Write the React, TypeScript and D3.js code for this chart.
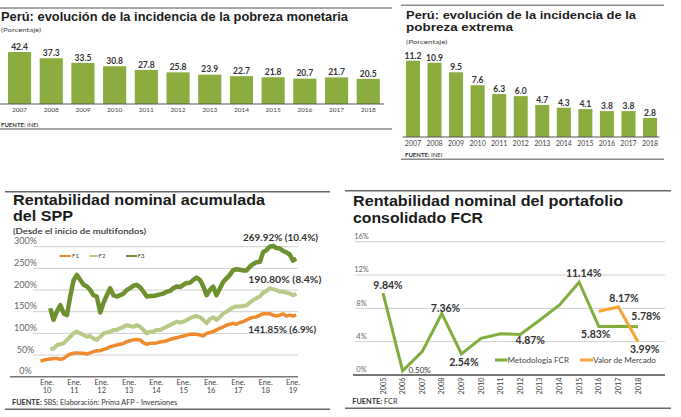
import React, { useEffect } from "react";
import * as d3 from "d3";

// ---------- DATA ----------
const years = ["2007", "2008", "2009", "2010", "2011", "2012", "2013", "2014", "2015", "2016", "2017", "2018"];
const pobrezaMonetaria = [42.4, 37.3, 33.5, 30.8, 27.8, 25.8, 23.9, 22.7, 21.8, 20.7, 21.7, 20.5];
const pobrezaExtrema = [11.2, 10.9, 9.5, 7.6, 6.3, 6.0, 4.7, 4.3, 4.1, 3.8, 3.8, 2.8];

const sppDates = [
  2009.76, 2009.88, 2010.0, 2010.12, 2010.24, 2010.36, 2010.49, 2010.61, 2010.73, 2010.85, 2010.97,
  2011.09, 2011.22, 2011.34, 2011.46, 2011.58, 2011.7, 2011.82, 2011.95,
  2012.07, 2012.19, 2012.31, 2012.43, 2012.55, 2012.68, 2012.8, 2012.92,
  2013.04, 2013.16, 2013.28, 2013.41, 2013.53, 2013.65, 2013.77, 2013.89,
  2014.01, 2014.14, 2014.26, 2014.38, 2014.5, 2014.62, 2014.74, 2014.87, 2014.99,
  2015.11, 2015.23, 2015.35, 2015.47, 2015.6, 2015.72, 2015.84, 2015.96,
  2016.08, 2016.2, 2016.33, 2016.45, 2016.57, 2016.69, 2016.81, 2016.93,
  2017.06, 2017.18, 2017.3, 2017.42, 2017.54, 2017.66, 2017.79, 2017.91,
  2018.03, 2018.15, 2018.27, 2018.39, 2018.52, 2018.64, 2018.76, 2018.88,
  2019.0, 2019.12,
];
const sppF1 = [
  36, 38, 40, 41, 42, 42, 40, 42, 48, 52, 54,
  55, 54, 54, 52, 55, 58, 60, 60,
  63, 65, 69, 71, 73, 75, 77, 81,
  83, 85, 86, 85, 78, 75, 77, 77,
  78, 80, 81, 83, 86, 88, 90, 92, 94,
  96, 98, 98, 98, 96, 94, 100, 102,
  104, 108, 112, 115, 119, 121, 123, 121,
  125, 127, 131, 135, 137, 138, 142, 146,
  145, 146, 142, 140, 142, 145, 140, 142,
  140, 142,
];
const sppF2 = [
  null, null, null, 63, 65, 73, 75, 77, 85, 92, 100,
  104, 100, 96, 92, 94, 88, 85, 92,
  100, 102, 104, 108, 108, 112, 115, 119,
  117, 115, 119, 115, 108, 100, 104, 104,
  108, 108, 112, 115, 119, 123, 127, 125, 127,
  131, 135, 138, 140, 137, 131, 123, 133,
  137, 131, 138, 146, 150, 155, 160, 162,
  162, 163, 165, 171, 177, 181, 185, 194,
  198, 204, 202, 200, 196, 196, 194, 192,
  188, 191,
];
const sppF3 = [
  null, null, null, 158, 131, 150, 165, 146, 142, 185, 222,
  235, 223, 212, 208, 200, 188, 185, 148,
  171, 188, 204, 188, 185, 188, 192, 200,
  204, 210, 212, 206, 196, 185, 186, 186,
  188, 190, 192, 196, 198, 204, 208, 207, 212,
  216, 217, 223, 229, 223, 208, 188, 200,
  208, 188, 204, 219, 227, 235, 246, 248,
  247, 245, 245, 254, 260, 264, 265, 288,
  292, 300, 302, 297, 296, 290, 287, 282,
  268, 272,
];
const sppYTicks = [0, 50, 100, 150, 200, 250, 300];
const sppXTicks = [2010, 2011, 2012, 2013, 2014, 2015, 2016, 2017, 2018, 2019];
const sppXLabels = ["10", "11", "12", "13", "14", "15", "16", "17", "18", "19"];

const fcrYears = ["2005", "2006", "2007", "2008", "2009", "2010", "2011", "2012", "2013", "2014", "2015", "2016", "2017", "2018"];
const fcrMetodologia = [9.84, 0.5, 2.8, 7.36, 2.54, 4.4, 4.95, 4.87, 6.6, 8.4, 11.14, 5.83, 5.85, 5.78];
const fcrMercado = [null, null, null, null, null, null, null, null, null, null, null, 7.65, 8.17, 3.99];
const fcrYTicks = [0, 4, 8, 12, 16];

// ---------- STYLE ----------
const FONT = "Lato, 'Open Sans', sans-serif";
const TFONT = "'Liberation Sans', Arial, sans-serif";
const BAR = "#8bac3e";
const RULE = "#8a8a8a";
const C_F1 = "#f08a2e";
const C_F2 = "#b7ca86";
const C_F3 = "#6e9130";
const C_MET = "#80ad3c";
const C_MER = "#f6a535";

export default function App() {
  useEffect(() => {
    document.body.style.margin = "0";
  }, []);

  // Panel 1
  const x1 = d3.scaleBand().domain(years).range([3.7, 384.1]).paddingInner(0.27).paddingOuter(0.135);
  const y1 = d3.scaleLinear().domain([0, 42.4]).range([104, 52]);
  // Panel 2
  const x2 = d3.scaleBand().domain(years).range([402.2, 660.8]).paddingInner(0.35).paddingOuter(0.175);
  const y2 = d3.scaleLinear().domain([0, 11.2]).range([137, 60.7]);
  // Panel 3
  const x3 = d3.scaleLinear().domain([2010, 2019]).range([47, 293]);
  const y3 = d3.scaleLinear().domain([0, 300]).range([376.7, 246.7]);
  const line3 = d3
    .line<number | null>()
    .defined((d) => d != null)
    .x((_, i) => x3(sppDates[i]))
    .y((d) => y3(d as number))
    .curve(d3.curveLinear);
  // Panel 4
  const x4 = d3.scalePoint().domain(fcrYears).range([383, 638]);
  const y4 = d3.scaleLinear().domain([0, 16]).range([375, 241.7]);
  const line4 = d3
    .line<number | null>()
    .defined((d) => d != null)
    .x((_, i) => x4(fcrYears[i]) as number)
    .y((d) => y4(d as number));

  const fcrLabels = [
    { s: fcrMetodologia, i: 0, t: "9.84%", dx: 5, dy: -3.7, fs: 10.5, fw: 700 },
    { s: fcrMetodologia, i: 1, t: "0.50%", dx: 17, dy: 2.5, fs: 8, fw: 400 },
    { s: fcrMetodologia, i: 3, t: "7.36%", dx: 3.7, dy: -2, fs: 10.5, fw: 700 },
    { s: fcrMetodologia, i: 4, t: "2.54%", dx: 2.4, dy: 12, fs: 10.5, fw: 700 },
    { s: fcrMetodologia, i: 7, t: "4.87%", dx: 10, dy: 10, fs: 10.5, fw: 700 },
    { s: fcrMetodologia, i: 10, t: "11.14%", dx: 4.5, dy: -5.5, fs: 10.5, fw: 700 },
    { s: fcrMercado, i: 12, t: "8.17%", dx: 5.6, dy: -5, fs: 10.5, fw: 700 },
    { s: fcrMetodologia, i: 13, t: "5.78%", dx: 8, dy: -7, fs: 10.5, fw: 700 },
    { s: fcrMetodologia, i: 11, t: "5.83%", dx: -3, dy: 11.3, fs: 10.5, fw: 700 },
    { s: fcrMercado, i: 13, t: "3.99%", dx: 6.7, dy: 11.5, fs: 10.5, fw: 700 },
  ];

  return (
    <svg
      width={681}
      height={417}
      style={{ position: "absolute", left: 0, top: 0, background: "#fff" }}
      fontFamily={FONT}
    >
      <rect x={0} y={0} width={681} height={417} fill="#fff" />

      {/* ================= Panel 1 ================= */}
      <line x1={0} x2={392} y1={8} y2={8} stroke={RULE} strokeWidth={1.5} />
      <text x={1} y={20.7} fontFamily={TFONT} fontSize={12.5} fontWeight={700} fill="#1d1d1d" textLength={347} lengthAdjust="spacingAndGlyphs">
        Perú: evolución de la incidencia de la pobreza monetaria
      </text>
      <text x={1} y={31.5} fontSize={6.5} fill="#444" textLength={40} lengthAdjust="spacingAndGlyphs">
        (Porcentaje)
      </text>
      {pobrezaMonetaria.map((v, i) => (
        <g key={"p1" + i}>
          <rect x={x1(years[i])} y={y1(v)} width={x1.bandwidth()} height={y1(0) - y1(v)} fill={BAR} />
          <text x={(x1(years[i]) as number) + x1.bandwidth() / 2} y={y1(v) - 2.3} fontSize={8.5} fontWeight={700} fill="#333" textAnchor="middle">
            {v.toFixed(1)}
          </text>
          <text x={(x1(years[i]) as number) + x1.bandwidth() / 2} y={111.5} fontSize={6.5} fill="#444" textAnchor="middle">
            {years[i]}
          </text>
        </g>
      ))}
      <line x1={0} x2={384} y1={104} y2={104} stroke="#555" strokeWidth={1} />
      <text x={1} y={126.5} fontSize={6} fill="#333">
        <tspan fontWeight={700}>FUENTE:</tspan> INEI
      </text>
      <line x1={0} x2={392} y1={129} y2={129} stroke={RULE} strokeWidth={1.5} />

      {/* ================= Panel 2 ================= */}
      <line x1={401} x2={664} y1={5.3} y2={5.3} stroke={RULE} strokeWidth={1.5} />
      <text x={406} y={19} fontFamily={TFONT} fontSize={10.9} fontWeight={700} fill="#1d1d1d" textLength={230} lengthAdjust="spacingAndGlyphs">
        Perú: evolución de la incidencia de la
      </text>
      <text x={406} y={31.3} fontFamily={TFONT} fontSize={10.9} fontWeight={700} fill="#1d1d1d" textLength={107} lengthAdjust="spacingAndGlyphs">
        pobreza extrema
      </text>
      <text x={406} y={43.7} fontSize={6.5} fill="#444" textLength={41.5} lengthAdjust="spacingAndGlyphs">
        (Porcentaje)
      </text>
      {pobrezaExtrema.map((v, i) => (
        <g key={"p2" + i}>
          <rect x={x2(years[i])} y={y2(v)} width={x2.bandwidth()} height={y2(0) - y2(v)} fill={BAR} />
          <text x={(x2(years[i]) as number) + x2.bandwidth() / 2} y={y2(v) - 1.8} fontSize={8.5} fontWeight={700} fill="#333" textAnchor="middle">
            {v.toFixed(1)}
          </text>
          <text x={(x2(years[i]) as number) + x2.bandwidth() / 2} y={146.3} fontSize={7} fill="#444" textAnchor="middle">
            {years[i]}
          </text>
        </g>
      ))}
      <line x1={402.5} x2={659.5} y1={137} y2={137} stroke="#555" strokeWidth={1} />
      <text x={405} y={156.5} fontSize={6} fill="#333">
        <tspan fontWeight={700}>FUENTE:</tspan> INEI
      </text>
      <line x1={401} x2={664} y1={159.3} y2={159.3} stroke={RULE} strokeWidth={1.5} />

      {/* ================= Panel 3 ================= */}
      <line x1={5} x2={330} y1={191.7} y2={191.7} stroke="#666" strokeWidth={1.5} />
      <text x={13} y={205} fontFamily={TFONT} fontSize={14.2} fontWeight={700} fill="#1a1a1a" textLength={252} lengthAdjust="spacingAndGlyphs">
        Rentabilidad nominal acumulada
      </text>
      <text x={13} y={221} fontFamily={TFONT} fontSize={14.2} fontWeight={700} fill="#1a1a1a" textLength={60} lengthAdjust="spacingAndGlyphs">
        del SPP
      </text>
      <text x={13} y={234.3} fontSize={7.5} fontWeight={600} fill="#333" textLength={133} lengthAdjust="spacingAndGlyphs">
        (Desde el inicio de multifondos)
      </text>
      {sppYTicks.map((t) => (
        <g key={"g3" + t}>
          {t > 0 && <line x1={33} x2={298} y1={y3(t)} y2={y3(t)} stroke="#cfcfcf" strokeWidth={1} />}
          <text x={25.5} y={y3(t) - 2.3} fontSize={9} fill="#666" textAnchor="middle">
            {t}%
          </text>
        </g>
      ))}
      <line x1={10} x2={298} y1={y3(0)} y2={y3(0)} stroke="#777" strokeWidth={1.5} />
      {sppXTicks.map((t, i) => (
        <g key={"x3" + t}>
          <text x={x3(t)} y={384.5} fontSize={7.5} fill="#444" textAnchor="middle">
            Ene.
          </text>
          <text x={x3(t)} y={392.8} fontSize={7.5} fill="#444" textAnchor="middle">
            {sppXLabels[i]}
          </text>
        </g>
      ))}
      <path d={line3(sppF1) || ""} fill="none" stroke={C_F1} strokeWidth={3.5} strokeLinejoin="round" />
      <path d={line3(sppF2) || ""} fill="none" stroke={C_F2} strokeWidth={4} strokeLinejoin="round" />
      <path d={line3(sppF3) || ""} fill="none" stroke={C_F3} strokeWidth={4.5} strokeLinejoin="round" />
      {/* legend */}
      <line x1={59.5} x2={71} y1={256} y2={256} stroke={C_F1} strokeWidth={2} />
      <text x={72} y={258.2} fontSize={6} fill="#444">F1</text>
      <line x1={89.5} x2={98} y1={256} y2={256} stroke={C_F2} strokeWidth={2} />
      <text x={98.5} y={258.2} fontSize={6} fill="#444">F2</text>
      <line x1={126} x2={137} y1={256} y2={256} stroke={C_F3} strokeWidth={2} />
      <text x={137.5} y={258.2} fontSize={6} fill="#444">F3</text>
      {/* end annotations */}
      <text x={243} y={241} fontSize={9.5} fontWeight={700} fill="#333" textLength={75} lengthAdjust="spacingAndGlyphs">
        269.92% (10.4%)
      </text>
      <text x={248.3} y={282.7} fontSize={9.5} fontWeight={700} fill="#333" textLength={73} lengthAdjust="spacingAndGlyphs">
        190.80%  (8.4%)
      </text>
      <text x={248.3} y={333.3} fontSize={9.5} fontWeight={700} fill="#333" textLength={68} lengthAdjust="spacingAndGlyphs">
        141.85%  (6.9%)
      </text>
      <text x={12} y={405} fontSize={7.3} fill="#333">
        <tspan fontWeight={700}>FUENTE:</tspan> SBS; Elaboración: Prima AFP - Inversiones
      </text>
      <line x1={5} x2={330} y1={409.3} y2={409.3} stroke="#666" strokeWidth={1.5} />

      {/* ================= Panel 4 ================= */}
      <line x1={345} x2={671} y1={190.7} y2={190.7} stroke="#666" strokeWidth={1.5} />
      <text x={353} y={206} fontFamily={TFONT} fontSize={14.5} fontWeight={700} fill="#1a1a1a" textLength={270} lengthAdjust="spacingAndGlyphs">
        Rentabilidad nominal del portafolio
      </text>
      <text x={353} y={222.5} fontFamily={TFONT} fontSize={14.5} fontWeight={700} fill="#1a1a1a" textLength={130} lengthAdjust="spacingAndGlyphs">
        consolidado FCR
      </text>
      {fcrYTicks.map((t) => (
        <g key={"g4" + t}>
          {t > 0 && <line x1={355} x2={665} y1={y4(t)} y2={y4(t)} stroke="#cfcfcf" strokeWidth={1} />}
          <text x={361.5} y={y4(t) - 2.6} fontSize={7.5} fill="#666" textAnchor="middle">
            {t}%
          </text>
        </g>
      ))}
      <line x1={353} x2={665} y1={y4(0)} y2={y4(0)} stroke="#777" strokeWidth={2} />
      {fcrYears.map((yr) => (
        <text
          key={"x4" + yr}
          transform={`translate(${(x4(yr) as number) + 2.5},${377.5}) rotate(-90)`}
          fontSize={7.3}
          fill="#444"
          textAnchor="end"
        >
          {yr}
        </text>
      ))}
      <path d={line4(fcrMetodologia) || ""} fill="none" stroke={C_MET} strokeWidth={3} strokeLinejoin="miter" />
      <path d={line4(fcrMercado) || ""} fill="none" stroke={C_MER} strokeWidth={3} />
      {fcrLabels.map((l, k) => (
        <text
          key={"l4" + k}
          x={(x4(fcrYears[l.i]) as number) + l.dx}
          y={y4(l.s[l.i] as number) + l.dy}
          fontSize={l.fs}
          fontWeight={l.fw}
          fill="#333"
          textAnchor="middle"
        >
          {l.t}
        </text>
      ))}
      {/* legend */}
      <line x1={495} x2={507.5} y1={360} y2={360} stroke={C_MET} strokeWidth={3} />
      <text x={507.5} y={362.7} fontSize={7.8} fill="#444" textLength={61.5} lengthAdjust="spacingAndGlyphs">
        Metodología FCR
      </text>
      <line x1={580} x2={593} y1={360} y2={360} stroke={C_MER} strokeWidth={3} />
      <text x={593} y={362.7} fontSize={7.8} fill="#444" textLength={63} lengthAdjust="spacingAndGlyphs">
        Valor de Mercado
      </text>
      <text x={352.3} y={404.3} fontSize={7.3} fill="#333">
        <tspan fontWeight={700}>FUENTE:</tspan> FCR
      </text>
      <line x1={345} x2={671} y1={408.3} y2={408.3} stroke="#666" strokeWidth={1.5} />
    </svg>
  );
}
